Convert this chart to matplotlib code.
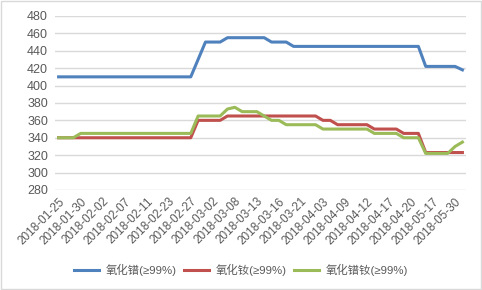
import matplotlib.pyplot as plt
import matplotlib.patches as patches
from matplotlib.transforms import ScaledTranslation

plt.rcParams['font.family'] = ['Liberation Sans', 'Noto Sans CJK SC', 'DejaVu Sans']

# dates shown on the axis (every 3rd point)
date_labels = ['2018-01-25', '2018-01-30', '2018-02-02', '2018-02-07', '2018-02-11',
               '2018-02-23', '2018-02-27', '2018-03-02', '2018-03-08', '2018-03-13',
               '2018-03-16', '2018-03-21', '2018-04-03', '2018-04-09', '2018-04-12',
               '2018-04-17', '2018-04-20', '2018-05-17', '2018-05-30']

pr_oxide = [410, 410, 410, 410, 410, 410, 410, 410, 410, 410,
            410, 410, 410, 410, 410, 410, 410, 410, 410, 430,
            450, 450, 450, 455, 455, 455, 455, 455, 455, 450,
            450, 450, 445, 445, 445, 445, 445, 445, 445, 445,
            445, 445, 445, 445, 445, 445, 445, 445, 445, 445,
            422, 422, 422, 422, 422, 418]

nd_oxide = [340, 340, 340, 340, 340, 340, 340, 340, 340, 340,
            340, 340, 340, 340, 340, 340, 340, 340, 340, 360,
            360, 360, 360, 365, 365, 365, 365, 365, 365, 365,
            365, 365, 365, 365, 365, 365, 360, 360, 355, 355,
            355, 355, 355, 350, 350, 350, 350, 345, 345, 345,
            323, 323, 323, 323, 323, 323]

prnd_oxide = [340, 340, 340, 345, 345, 345, 345, 345, 345, 345,
              345, 345, 345, 345, 345, 345, 345, 345, 345, 365,
              365, 365, 365, 373, 375, 370, 370, 370, 365, 360,
              360, 355, 355, 355, 355, 355, 350, 350, 350, 350,
              350, 350, 350, 345, 345, 345, 345, 340, 340, 340,
              322, 322, 322, 322, 330, 335]

x = list(range(len(pr_oxide)))

fig = plt.figure(figsize=(4.82, 2.90), dpi=100)
ax = fig.add_axes([0.114, 0.345, 0.853, 0.600])

ax.plot(x, pr_oxide, color='#4F81BD', linewidth=2.2, label='氧化镨(≥99%)')
ax.plot(x, nd_oxide, color='#C0504D', linewidth=2.2, label='氧化钕(≥99%)')
ax.plot(x, prnd_oxide, color='#9BBB59', linewidth=2.2, label='氧化镨钕(≥99%)')

ax.set_ylim(280, 480)
ax.set_yticks(range(280, 481, 20))
ax.set_xlim(-0.5, len(x) - 0.5)
ax.set_xticks(x[::3])
ax.set_xticklabels(date_labels, rotation=45, ha='right', va='top',
                   rotation_mode='anchor', fontsize=8.5, color='#595959')
# nudge the rotated labels a little right and down, like excel does
shift = ScaledTranslation(5 / 100, -4 / 100, fig.dpi_scale_trans)
for lbl in ax.get_xticklabels():
    lbl.set_transform(lbl.get_transform() + shift)
ax.tick_params(axis='y', labelsize=9, labelcolor='#595959', length=0, pad=5)
ax.tick_params(axis='x', length=0, pad=4)

ax.grid(axis='y', color='#D9D9D9', linewidth=1)
ax.set_axisbelow(True)
for s in ['top', 'right', 'left', 'bottom']:
    ax.spines[s].set_visible(False)

fig.legend(loc='center', bbox_to_anchor=(0.5, 0.069), ncol=3, frameon=False,
           fontsize=8.2, handlelength=2.2, columnspacing=0.6, handletextpad=0.6,
           labelcolor='#595959')

fig.patches.append(patches.Rectangle((0.002, 0.003), 0.996, 0.994, transform=fig.transFigure,
                                     fill=False, edgecolor='#D9D9D9', linewidth=1))

plt.savefig('out.png', dpi=100)
